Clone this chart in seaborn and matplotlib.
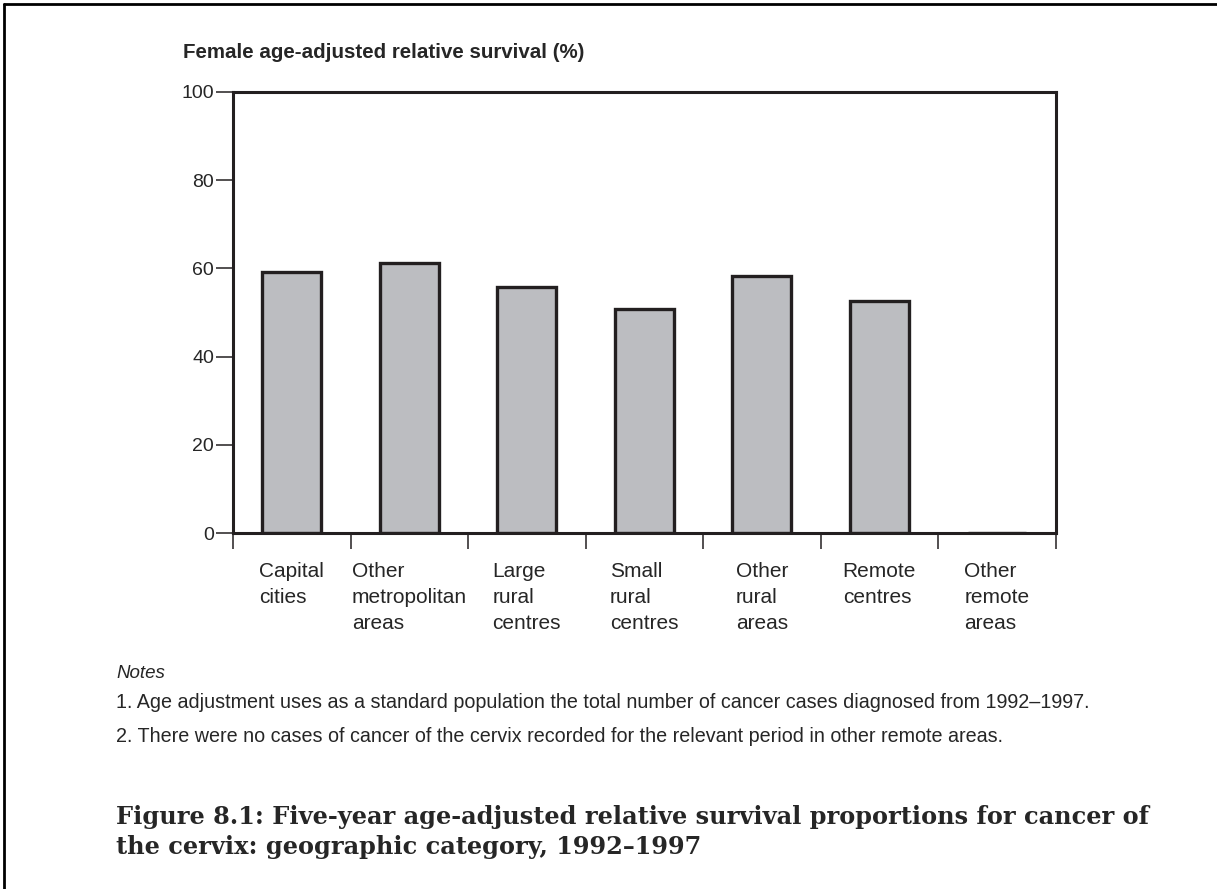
import matplotlib
matplotlib.use("Agg")
import matplotlib.pyplot as plt
import numpy as np
import pandas as pd
import seaborn as sns
from matplotlib.lines import Line2D

# Данные графика
categories = [
    "Capital\ncities",
    "Other\nmetropolitan\nareas",
    "Large\nrural\ncentres",
    "Small\nrural\ncentres",
    "Other\nrural\nareas",
    "Remote\ncentres",
    "Other\nremote\nareas",
]
survival = [59.1, 61.1, 55.8, 50.7, 58.3, 52.5, 0.0]
y_ticks = [0, 20, 40, 60, 80, 100]

notes = [
    "1. Age adjustment uses as a standard population the total number of cancer cases diagnosed from 1992\u20131997.",
    "2. There were no cases of cancer of the cervix recorded for the relevant period in other remote areas.",
]
caption = ("Figure 8.1: Five-year age-adjusted relative survival proportions for cancer of\n"
           "the cervix: geographic category, 1992\u20131997")

W, H = 1217, 889
sns.set_style("white")
plt.rcParams["font.family"] = ["Liberation Sans", "DejaVu Sans"]

fig = plt.figure(figsize=(W / 100, H / 100), dpi=100)
ax = fig.add_axes([233 / W, 1 - 533.3 / H, (1055.7 - 233) / W, (533.3 - 91.7) / H])

df = pd.DataFrame({"cat": categories, "val": survival})
sns.barplot(data=df, x="cat", y="val", color="#bcbdc1", saturation=1,
            edgecolor="#231f20", linewidth=2.4, width=0.5, ax=ax)

ax.set_xlim(-0.5, len(categories) - 0.5)
ax.set_ylim(0, 100)
ax.set_yticks(y_ticks)
ax.set_xlabel("")
ax.set_ylabel("")

for s in ax.spines.values():
    s.set_visible(True)
    s.set_color("#231f20")
    s.set_linewidth(2.2)

# длины тиков в пунктах (1 pt = 1.39 px при dpi 100)
ax.tick_params(axis="y", direction="out", length=12.2, width=1.1, color="#231f20",
               labelsize=14, pad=1.5, left=True)
ax.tick_params(axis="x", which="major", length=0, labelsize=15, pad=21)
for lbl in ax.get_xticklabels():
    lbl.set_multialignment("left")
    lbl.set_linespacing(1.45)
ax.set_xticks(np.arange(-0.5, len(categories), 1.0), minor=True)
ax.tick_params(axis="x", which="minor", direction="out", length=11.5, width=1.1,
               color="#231f20", bottom=True)

fig.text(183 / W, 1 - 52 / H, "Female age-adjusted relative survival (%)",
         fontsize=14.8, fontweight="bold", ha="left", va="center")

fig.text(116 / W, 1 - 673 / H, "Notes", fontsize=13.5, style="italic", ha="left", va="center")
fig.text(116 / W, 1 - 703 / H, notes[0], fontsize=14.2, ha="left", va="center")
fig.text(116 / W, 1 - 737 / H, notes[1], fontsize=14.2, ha="left", va="center")

fig.text(116 / W, 1 - 832 / H, caption, fontsize=17.3, fontweight="bold",
         family=["DejaVu Serif"], ha="left", va="center",
         linespacing=1.3)

# рамка слева и сверху
fig.add_artist(Line2D([4 / W, 4 / W], [0, 1 - 4 / H], transform=fig.transFigure,
                      color="black", linewidth=2))
fig.add_artist(Line2D([4 / W, 1], [1 - 4 / H, 1 - 4 / H], transform=fig.transFigure,
                      color="black", linewidth=2))

fig.savefig("out.png", dpi=100)
plt.close(fig)
